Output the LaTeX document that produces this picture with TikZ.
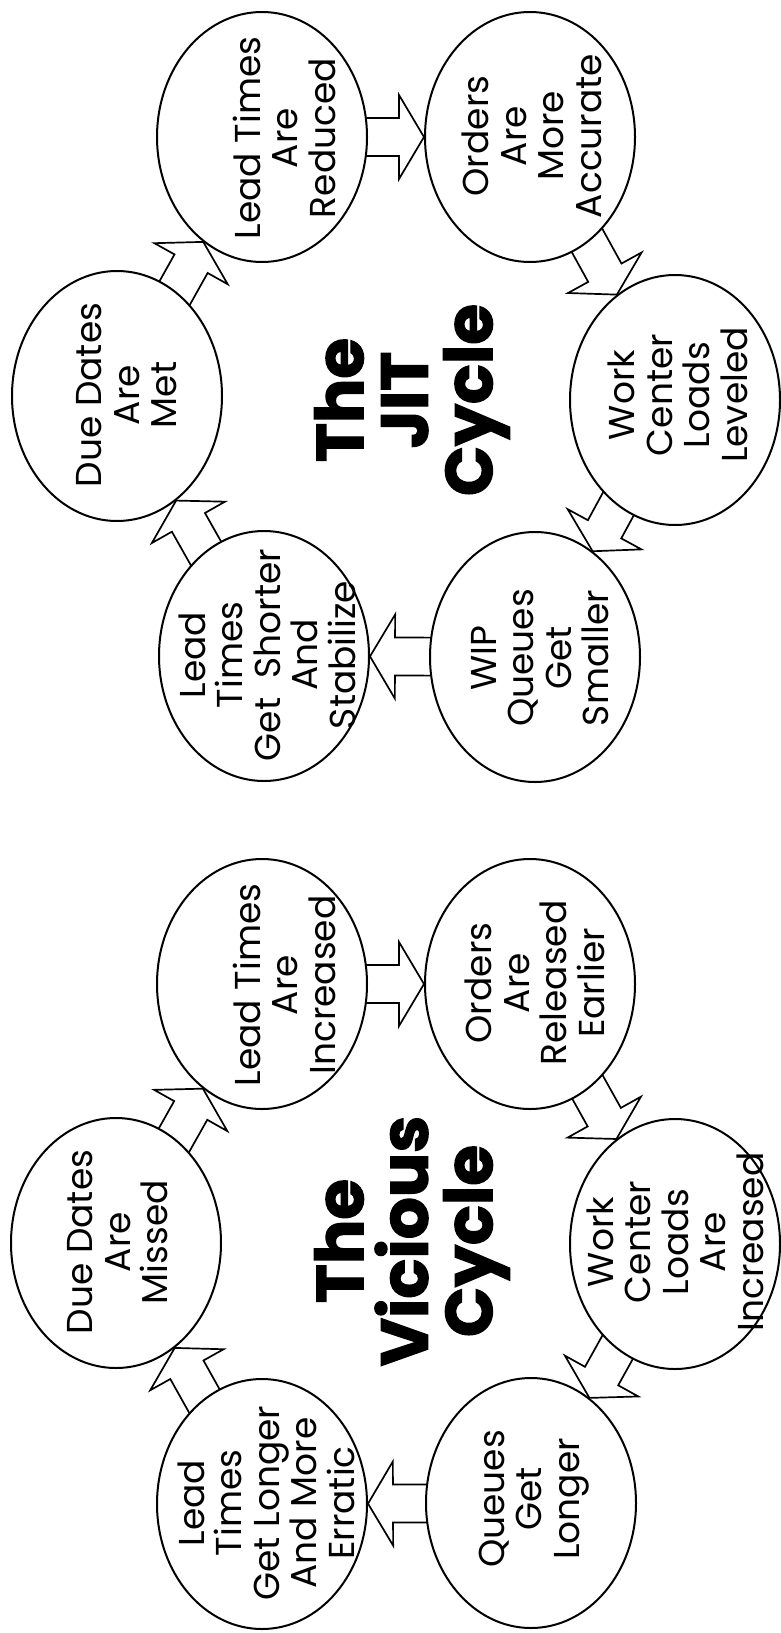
\documentclass[tikz,border=0pt]{standalone}
\usepackage{fontspec}
\setmainfont{Poppins}[BoldFeatures={FakeBold=2}]
\usetikzlibrary{calc,shapes.geometric}
\pgfdeclarelayer{back}
\pgfsetlayers{back,main}

% Fat hollow arrow from the centre of #1 to the border of #2
\newcommand\fatarrow[2]{%
  \path (#1) -- (#2) coordinate[pos=1] (tip);
  \coordinate (hb) at ($(tip)!25pt!(#1.center)$);
  \filldraw[fat] ($(#1.center)!19pt!90:(tip)$) -- ($(hb)!19pt!90:(tip)$)
    -- ($(hb)!42pt!90:(tip)$) -- (tip) -- ($(hb)!42pt!-90:(tip)$)
    -- ($(hb)!19pt!-90:(tip)$) -- ($(#1.center)!19pt!-90:(tip)$) -- cycle;
}

\begin{document}
\begin{tikzpicture}[x=1pt,y=-1pt,
  bubble/.style={draw, line width=2pt, ellipse, fill=white,
    minimum width=210pt, minimum height=250pt, inner sep=0pt},
  bubtext/.style={rotate=90, align=center, inner sep=0pt,
    font=\fontsize{36}{37.5}\selectfont},
  headline/.style={rotate=90, align=center, inner sep=0pt,
    font=\fontsize{66}{64.5}\selectfont\bfseries},
  fat/.style={draw, line width=1.7pt, fill=white, line join=miter}]

\begin{pgfonlayer}{back}
  \fill[white] (0,0) rectangle (780,1633);
\end{pgfonlayer}
\useasboundingbox (0,0) rectangle (780,1633);

% ---------- The JIT cycle ----------
\node[bubble] (jDue)   at (117,396) {};
\node[bubble] (jLeadR) at (262,137) {};
\node[bubble] (jOrd)   at (530,137) {};
\node[bubble] (jWork)  at (675,400) {};
\node[bubble] (jWIP)   at (535,657) {};
\node[bubble] (jLeadS) at (264,656) {};

\node[bubtext] (tjDue)   at (127,395) {Due Dates\\Are\\Met};
\node[bubtext] (tjLeadR) at (284,138) {Lead Times\\Are\\Reduced};
\node[bubtext] (tjOrd)   at (532,136) {Orders\\Are\\More\\Accurate};
\node[bubtext] (tjWork)  at (678,395) {Work\\Center\\Loads\\Leveled};
\node[bubtext] (tjWIP)   at (540,658) {WIP\\Queues\\Get\\Smaller};
\node[bubtext] (tjLeadS) at (267,655) {Lead\\Times\\Get\ \ Shorter\\And\\Stabilize};

\node[headline] (jTitle) at (412,400) {The\\JIT\\Cycle};

\begin{pgfonlayer}{back}
  \fatarrow{jDue}{jLeadR}
  \fatarrow{jLeadR}{jOrd}
  \fatarrow{jOrd}{jWork}
  \fatarrow{jWork}{jWIP}
  \fatarrow{jWIP}{jLeadS}
  \fatarrow{jLeadS}{jDue}
\end{pgfonlayer}

% ---------- The vicious cycle ----------
\node[bubble] (vDue)   at (116,1243) {};
\node[bubble] (vLeadI) at (262,984) {};
\node[bubble] (vOrd)   at (530,984) {};
\node[bubble] (vWork)  at (675,1244) {};
\node[bubble] (vQue)   at (531,1503) {};
\node[bubble] (vLeadE) at (262,1504) {};

\node[bubtext] (tvDue)   at (118,1242) {Due Dates\\Are\\Missed};
\node[bubtext] (tvLeadI) at (284,985)  {Lead Times\\Are\\Increased};
\node[bubtext] (tvOrd)   at (535,983)  {Orders\\Are\\Released\\Earlier};
\node[bubtext] (tvWork)  at (675,1242) {Work\\Center\\Loads\\Are\\Increased};
\node[bubtext] (tvQue)   at (534,1499) {Queues\\Get\\Longer};
\node[bubtext] (tvLeadE) at (266,1503) {Lead\\Times\\Get Longer\\And More\\Erratic};

\node[headline] (vTitle) at (412,1241) {The\\Vicious\\Cycle};

\begin{pgfonlayer}{back}
  \fatarrow{vLeadE}{vDue}
  \fatarrow{vDue}{vLeadI}
  \fatarrow{vLeadI}{vOrd}
  \fatarrow{vOrd}{vWork}
  \fatarrow{vWork}{vQue}
  \fatarrow{vQue}{vLeadE}
\end{pgfonlayer}
\end{tikzpicture}
\end{document}
